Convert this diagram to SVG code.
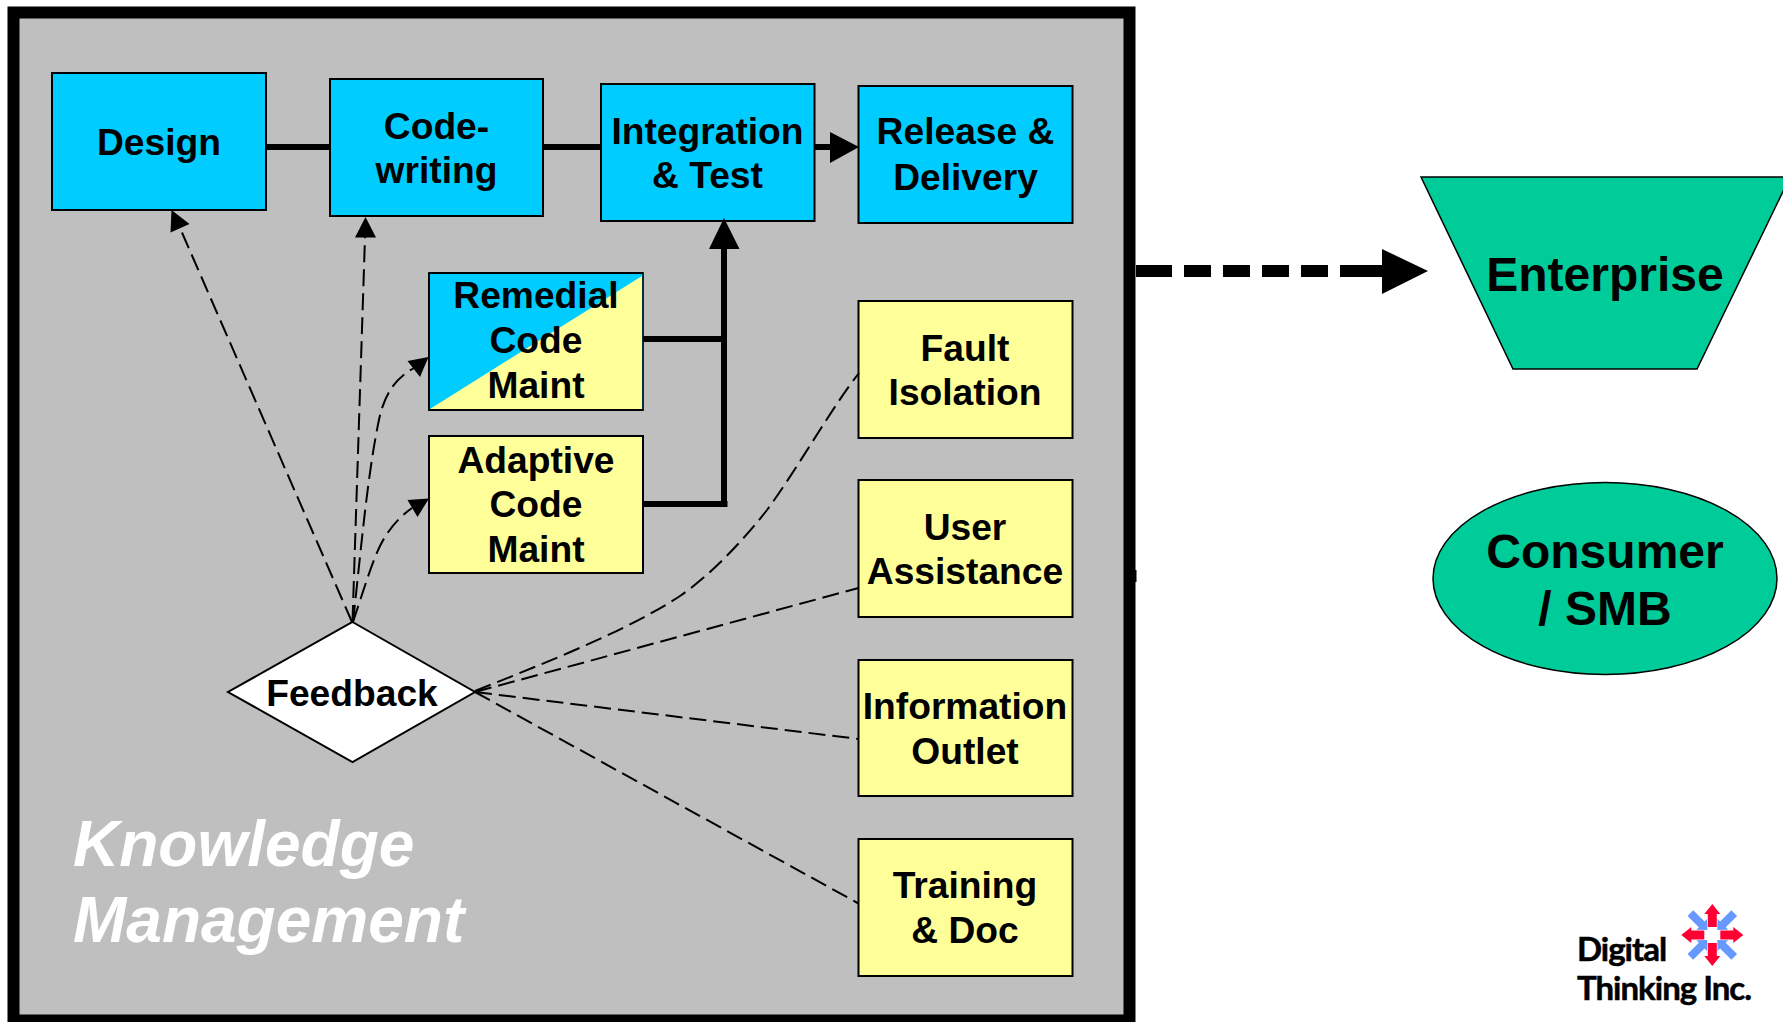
<svg xmlns="http://www.w3.org/2000/svg" width="1783" height="1022" viewBox="0 0 1783 1022">
<style>
text{font-family:"Liberation Sans",Arial,sans-serif;font-weight:700;fill:#000;text-anchor:middle}
.t{font-size:37.2px}
.b{stroke:#000;stroke-width:2}
.blue{fill:#00ccff}
.yel{fill:#ffff99}
.gr{fill:#00cc99;stroke:#000;stroke-width:1.500}
.big{font-size:48px}
.km{font-size:64px;font-style:italic;fill:#fff;text-anchor:start}
.thick{stroke:#000;stroke-width:6;fill:none}
.dash{stroke:#000;stroke-width:2;fill:none;stroke-dasharray:17 7}
.logo{font-family:"Lato","Liberation Sans",sans-serif;font-size:33px;text-anchor:start;font-weight:700;stroke:#000;stroke-width:.5;letter-spacing:-1px}
</style>
<defs>
<polygon id="red" points="-4.500,-8 -4.500,-21 -8,-21 0,-31 8,-21 4.500,-21 4.500,-8" fill="#ff0033"/>
<polygon id="blu" points="-4,-31 -4,-15 -7.500,-15 0,-7 7.500,-15 4,-15 4,-31" fill="#6699ff"/>
</defs>
<g id="frame"><rect x="13.500" y="12.500" width="1116" height="1008" fill="#bfbfbf" stroke="#000" stroke-width="12"/><rect x="1135" y="570" width="1.500" height="12"/></g>
<g id="design"><rect class="b blue" x="52" y="73" width="214" height="137"/><text class="t" x="159" y="154.500">Design</text></g>
<g id="code"><rect class="b blue" x="330" y="79" width="213" height="137"/><text class="t" x="436.500" y="138.500">Code-</text><text class="t" x="436.500" y="182.500">writing</text></g>
<g id="integration"><rect class="b blue" x="601" y="84" width="213.500" height="137"/><text class="t" x="707.500" y="143.500">Integration</text><text class="t" x="707.500" y="188">&amp; Test</text></g>
<g id="release"><rect class="b blue" x="858.500" y="86" width="214" height="137"/><text class="t" x="965.500" y="144">Release &amp;</text><text class="t" x="965.500" y="189.500">Delivery</text></g>
<g id="remedial"><rect class="yel" stroke="#00303f" stroke-width="2" x="429" y="273" width="214" height="137"/><polygon class="blue" points="430,274 642,274 642,276 430,409"/><path d="M429 273H643M429 273V410H643" fill="none" stroke="#000" stroke-width="2"/><text class="t" x="536" y="307.500">Remedial</text><text class="t" x="536" y="352.500">Code</text><text class="t" x="536" y="397.500">Maint</text></g>
<g id="adaptive"><rect class="b yel" x="429" y="436" width="214" height="137"/><text class="t" x="536" y="472.500">Adaptive</text><text class="t" x="536" y="516.500">Code</text><text class="t" x="536" y="561.500">Maint</text></g>
<g id="fault"><rect class="b yel" x="858.500" y="301" width="214" height="137"/><text class="t" x="965" y="360.500">Fault</text><text class="t" x="965" y="404.500">Isolation</text></g>
<g id="user"><rect class="b yel" x="858.500" y="480" width="214" height="137"/><text class="t" x="965" y="539.500">User</text><text class="t" x="965" y="583.500">Assistance</text></g>
<g id="info"><rect class="b yel" x="858.500" y="660" width="214" height="136"/><text class="t" x="965" y="718.500">Information</text><text class="t" x="965" y="763.500">Outlet</text></g>
<g id="training"><rect class="b yel" x="858.500" y="839" width="214" height="137"/><text class="t" x="965" y="897.500">Training</text><text class="t" x="965" y="942.500">&amp; Doc</text></g>
<g id="feedback"><polygon points="352.500,622 475,692 352.500,762 228,692" fill="#fff" stroke="#000" stroke-width="2"/><text class="t" x="352" y="706">Feedback</text></g>
<g id="enterprise"><polygon class="gr" points="1421,177 1790,177 1697,369 1513,369"/><text class="big" x="1605" y="291">Enterprise</text></g>
<g id="consumer"><ellipse class="gr" cx="1605" cy="578.500" rx="172" ry="96"/><text class="big" x="1605" y="568">Consumer</text><text class="big" x="1605" y="625">/ SMB</text></g>
<g id="knowledge-management"><text class="km" x="73" y="866">Knowledge</text><text class="km" x="73" y="942">Management</text></g>
<g id="logo"><g transform="translate(1712.300 935)"><use href="#red"/><use href="#red" transform="rotate(90)"/><use href="#red" transform="rotate(180)"/><use href="#red" transform="rotate(270)"/><use href="#blu" transform="rotate(45)"/><use href="#blu" transform="rotate(135)"/><use href="#blu" transform="rotate(225)"/><use href="#blu" transform="rotate(315)"/></g><text class="logo" x="1577" y="961">Digital</text><text class="logo" x="1577" y="1000">Thinking Inc.</text></g>
<g id="connectors">
<path class="thick" d="M266 147H330M543 147H601M814 147H830"/>
<polygon points="830,132 859,147 830,163"/>
<path class="thick" d="M643 339H724M643 504H727.500M724 507V248"/>
<polygon points="709,249 724,218 739.500,249"/>
<path class="dash" d="M352 622L180 228"/>
<polygon points="171.500,210 189.500,224 170.500,232.500"/>
<path class="dash" d="M352.500 622L365 237"/>
<polygon points="365.500,217 376,237.500 355,237.500"/>
<path class="dash" d="M353 622C362 540 368 470 380 415C386 392 396 378 414 368"/>
<polygon points="428.500,357 420,377 407.500,361"/>
<path class="dash" d="M353 622C362 595 372 562 380 546C388 530 398 518 412 508"/>
<polygon points="429,498.500 417.500,517 407.500,500"/>
<path class="dash" d="M475 691C540 665 625 632 680 596C715 572 750 532 767 510C800 465 830 410 859 373"/>
<path class="dash" d="M475 692L858.500 588"/>
<path class="dash" d="M475 692L858.500 739"/>
<path class="dash" d="M475 692L858.500 903.500"/>
<path stroke="#000" stroke-width="12" fill="none" stroke-dasharray="36 12 27 12 27 12 27 12 27 12 42" d="M1136 271H1382"/>
<polygon points="1382,249 1428,271 1382,294"/>
</g>
</svg>
